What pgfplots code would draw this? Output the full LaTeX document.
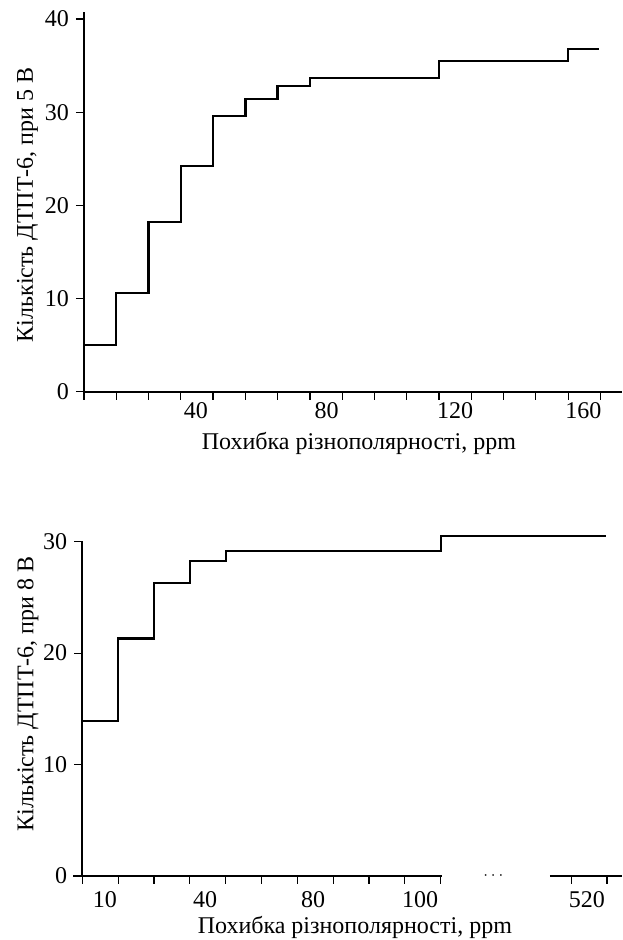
\documentclass[border=0pt]{standalone}
\usepackage{fontspec}
\setmainfont{Liberation Serif}
\usepackage{pgfplots}
\pgfplotsset{compat=1.18}
\begin{document}
\begin{tikzpicture}
\useasboundingbox (0pt,0pt) rectangle (311pt,470pt);
\pgfplotsset{
  myaxis/.style={
    scale only axis,
    anchor=south west,
    axis lines*=left,
    tick align=outside,
    major tick length=4pt,
    axis line style={line width=1pt},
    tick style={line width=0.6pt, black},
    tick label style={font=\fontsize{12}{14}\selectfont},
    label style={font=\fontsize{12}{14}\selectfont},
    /pgf/number format/assume math mode=true,
    clip=false,
    xticklabels={},
  }
}
% ---------- top panel ----------
\begin{axis}[myaxis,
  at={(42pt,274.15pt)}, width=269pt, height=189.85pt,
  xmin=0, xmax=166.7, ymin=0, ymax=40.75,
  xtick={0,10,...,160},
  extra x ticks={34.7,75.2,115,154.7},
  extra x tick labels={40,80,120,160},
  extra x tick style={tick style={draw=none}, tick label style={anchor=base, yshift=-9.65pt}},
  ytick={0,10,20,30,40},
  xlabel={Похибка різнополярності, ppm},
  xlabel style={at={(axis description cs:0.511,0)}, anchor=base, yshift=-29.15pt},
  ylabel={Кількість ДТПТ-6, при 5 В},
  ylabel style={at={(axis description cs:0,0.492)}, anchor=base, yshift=25.5pt}]
\addplot[const plot, line width=1.15pt, black] coordinates {
(0,5.0) (10,10.6) (20,18.2) (30,24.2) (40,29.6) (50,31.4) (60,32.8)
(70,33.7) (110,35.5) (150,36.8) (159.5,36.8)};
\end{axis}
% ---------- bottom panel ----------
\begin{axis}[myaxis,
  at={(41.15pt,32.15pt)}, width=269.85pt, height=167.5pt,
  xmin=0, xmax=15.06, ymin=0, ymax=30.1,
  x axis line style={draw=none},
  xtick={0,1,2,3,4,5,6,7,8,9,10,13.66,14.64},
  extra x ticks={0.63,3.43,6.44,9.43,14.08},
  extra x tick labels={10,40,80,100,520},
  extra x tick style={tick style={draw=none}, tick label style={anchor=base, yshift=-11.65pt}},
  ytick={0,10,20,30},
  xlabel={Похибка різнополярності, ppm},
  xlabel style={at={(axis description cs:0.505,0)}, anchor=base, yshift=-29.15pt},
  ylabel={Кількість ДТПТ-6, при 8 В},
  ylabel style={at={(axis description cs:0,0.543)}, anchor=base, yshift=24.5pt}]
\addplot[const plot, line width=1.15pt, black] coordinates {
(0,13.9) (1,21.3) (2,26.3) (3,28.3) (4,29.2) (10,30.5) (14.6,30.5)};
\draw[line width=1pt] (axis cs:-0.25,0) -- (axis cs:10.03,0);
\draw[line width=1pt] (axis cs:13.05,0) -- (axis cs:15.06,0);
\node[anchor=base, inner sep=0pt, font=\footnotesize, yshift=-2pt] at (axis cs:11.47,0) {$\cdots$};
\end{axis}
\end{tikzpicture}
\end{document}
